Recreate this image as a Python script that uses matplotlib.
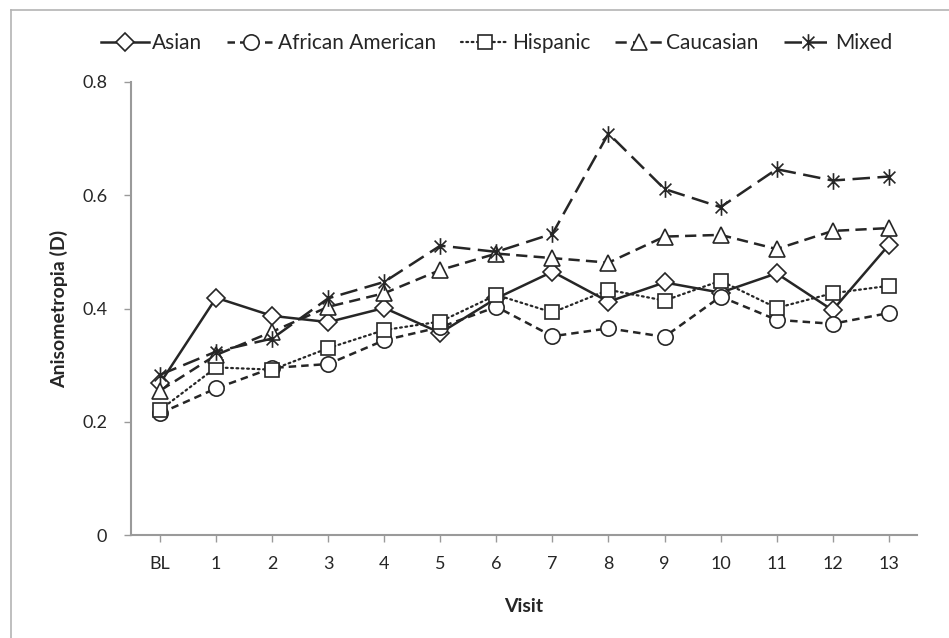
import matplotlib.pyplot as plt
from matplotlib.path import Path
from matplotlib.lines import Line2D
import numpy as np

# Values
visits = ["BL", "1", "2", "3", "4", "5", "6", "7", "8", "9", "10", "11", "12", "13"]

asian = [0.268, 0.419, 0.387, 0.376, 0.401, 0.357, 0.418, 0.465, 0.412, 0.446, 0.428, 0.462, 0.397, 0.512]
african_american = [0.215, 0.259, 0.295, 0.302, 0.344, 0.367, 0.403, 0.351, 0.365, 0.350, 0.421, 0.380, 0.373, 0.392]
hispanic = [0.221, 0.296, 0.292, 0.330, 0.362, 0.377, 0.424, 0.393, 0.433, 0.414, 0.449, 0.401, 0.427, 0.440]
caucasian = [0.255, 0.318, 0.359, 0.403, 0.427, 0.468, 0.497, 0.489, 0.481, 0.527, 0.530, 0.505, 0.537, 0.542]
mixed = [0.283, 0.324, 0.347, 0.418, 0.447, 0.511, 0.500, 0.532, 0.709, 0.611, 0.579, 0.646, 0.626, 0.633]

plt.rcParams['font.family'] = ['Lato', 'DejaVu Sans']

# Excel-style asterisk: an X with a vertical bar
d = 0.7071
star = Path([(-d, -d), (d, d), (-d, d), (d, -d), (0, -1), (0, 1)],
            [Path.MOVETO, Path.LINETO, Path.MOVETO, Path.LINETO, Path.MOVETO, Path.LINETO])

ink = '#262626'
x = np.arange(len(visits))

fig = plt.figure(figsize=(9.49, 6.38), dpi=100)
ax = fig.add_axes([0.138, 0.1614, 0.828, 0.7101])

common = dict(color=ink, markeredgecolor=ink, markerfacecolor='white', markeredgewidth=1.2, clip_on=False)
ax.plot(x, asian, linestyle='-', lw=1.8, marker='D', markersize=9, label='Asian', **common)
ax.plot(x, african_american, linestyle=(0, (3, 2)), lw=1.8, marker='o', markersize=11,
        label='African American', **common)
ax.plot(x, hispanic, linestyle=(0, (0.8, 1.6)), lw=1.6, dash_capstyle='round', marker='s', markersize=10,
        label='Hispanic', **common)
ax.plot(x, caucasian, linestyle=(0, (4.5, 2.5)), lw=1.8, marker='^', markersize=11,
        label='Caucasian', **common)
ax.plot(x, mixed, linestyle=(0, (7, 3)), lw=1.8, marker=star, markersize=12,
        label='Mixed', **common)

ax.set_xlim(-0.52, 13.5)
ax.set_ylim(0, 0.8)
ax.set_xticks(x)
ax.set_xticklabels(visits)
ax.set_yticks([0, 0.2, 0.4, 0.6, 0.8])
ax.set_yticklabels(['0', '0.2', '0.4', '0.6', '0.8'])

for side in ['top', 'right']:
    ax.spines[side].set_visible(False)
for side in ['left', 'bottom']:
    ax.spines[side].set_color('#9a9a9a')
    ax.spines[side].set_linewidth(1.5)
ax.tick_params(axis='both', colors='#9a9a9a', length=5, width=1, labelsize=13, labelcolor='#262626')
ax.tick_params(axis='x', pad=10)
ax.tick_params(axis='y', pad=12)

ax.set_ylabel('Anisometropia (D)', fontsize=14, fontweight='bold', color='#262626', labelpad=10)
ax.set_xlabel('Visit', fontsize=14, fontweight='bold', color='#262626', labelpad=19)

ax.legend(loc='upper center', bbox_to_anchor=(0.523, 0.977), bbox_transform=fig.transFigure,
          ncol=5, frameon=False, fontsize=15, handlelength=2.3, columnspacing=1.2,
          handletextpad=0.15, labelcolor='#262626')

# thin grey frame lines visible at the top and left of the reference
fig.add_artist(Line2D([10.5 / 949, 10.5 / 949], [0, 1 - 10 / 638], transform=fig.transFigure,
                      color='#b4b4b4', lw=1.2))
fig.add_artist(Line2D([10.5 / 949, 1], [1 - 10 / 638, 1 - 10 / 638], transform=fig.transFigure,
                      color='#b4b4b4', lw=1.2))

fig.savefig('out.png', dpi=100)
